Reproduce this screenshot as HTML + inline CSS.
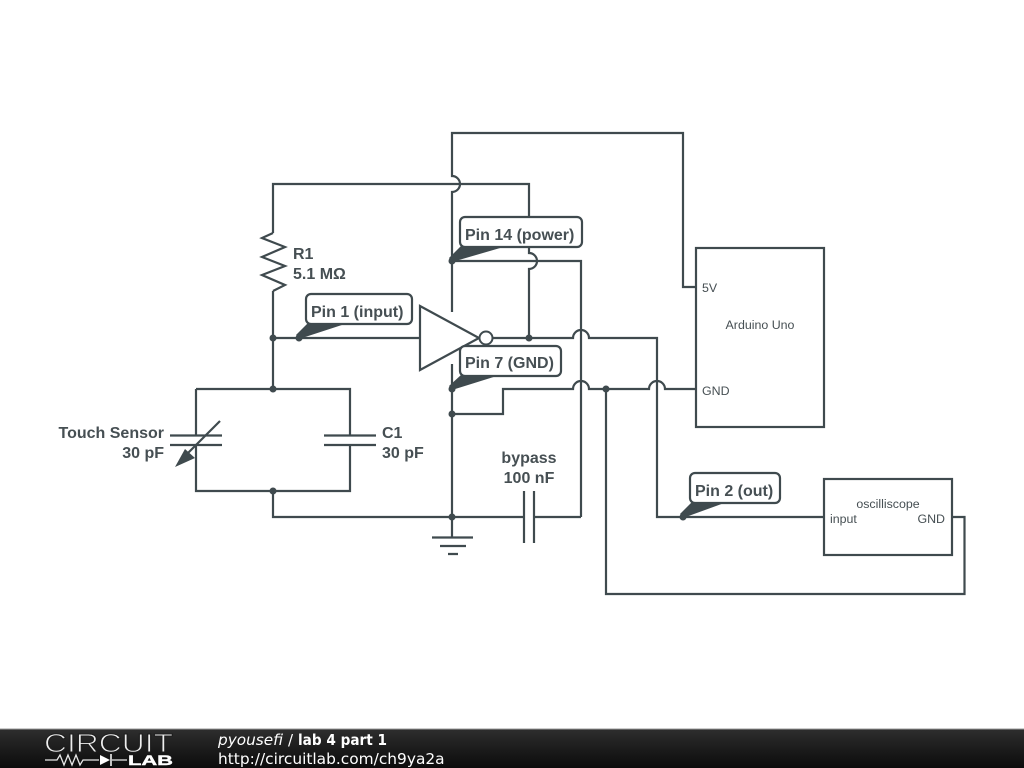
<!DOCTYPE html>
<html>
<head>
<meta charset="utf-8">
<style>
html,body{margin:0;padding:0;background:#fff;width:1024px;height:768px;overflow:hidden}
svg{display:block}
.w{fill:none;stroke:#3f4a4e;stroke-width:2.2}
.d{fill:#3f4a4e}
.c{fill:#fff;stroke:#3f4a4e;stroke-width:2.2}
.b{font:bold 16px "Liberation Sans",sans-serif;fill:#464f53}
.n{font:12.4px "Liberation Sans",sans-serif;fill:#464f53}
.f{font-family:"DejaVu Sans",sans-serif;font-size:15px;fill:#fff}
</style>
</head>
<body>
<svg width="1024" height="768" viewBox="0 0 1024 768" xmlns="http://www.w3.org/2000/svg">
<rect width="1024" height="768" fill="#fff"/>
<defs>
<linearGradient id="g" x1="0" y1="0" x2="0" y2="1">
<stop offset="0" stop-color="#2e2e2e"/><stop offset=".5" stop-color="#1c1c1c"/><stop offset="1" stop-color="#0c0c0c"/>
</linearGradient>
</defs>

<!-- wires -->
<g class="w">
<path d="M452 312V192A8 8 0 0 0 452 176V133H683V287H696"/>
<path d="M273 233V184H529V253A8 8 0 0 1 529 269V338"/>
<path d="M452 261H581V517"/>
<path d="M479 338H573A8 8 0 0 1 589 338H657V517H824"/>
<path d="M452 364V517"/>
<path d="M452 414H503V389H573A8 8 0 0 1 589 389H649A8 8 0 0 1 665 389H696"/>
<path d="M606 389V594H964.500V517H952"/>
<path d="M273 291V389M273 338H420"/>
<path d="M273 233L262 238L285 247L262 257L285 266L262 275L285 285L273 291"/>
<path d="M196 389H350V435M350 445V491H196V445M196 435V389"/>
<path d="M273 491V517H524M534 517H581"/>
<path d="M524 491V543M534 491V543"/>
<path d="M170 435.500H222M170 445H222"/>
<path d="M324 435.500H376M324 445H376"/>
<path d="M220 421L186 455"/>
<path d="M452 517V537M432 537.500H473M440 546H466M448 554H458"/>
<rect x="696" y="248" width="128" height="179"/>
<rect x="824" y="479" width="128" height="76"/>
</g>
<path class="d" d="M175 467L185 449L195 458Z"/>

<!-- inverter -->
<path d="M420 306V370L479 338Z" fill="#fff" stroke="#3f4a4e" stroke-width="2.2"/>
<circle cx="486" cy="338" r="6.500" fill="#fff" stroke="#3f4a4e" stroke-width="2"/>

<!-- junctions -->
<g class="d">
<circle cx="273" cy="338" r="3.500"/>
<circle cx="273" cy="389" r="3.500"/>
<circle cx="273" cy="491" r="3.500"/>
<circle cx="452" cy="517" r="3.500"/>
<circle cx="529" cy="338" r="3.500"/>
<circle cx="606" cy="389" r="3.500"/>
<circle cx="452" cy="414" r="3.500"/>
</g>

<!-- callouts -->
<rect class="c" x="460" y="217" width="122" height="30" rx="5"/>
<path class="d" d="M452 262L449 258L461 246H507Z"/><circle class="d" cx="452" cy="261" r="3.500"/>
<text class="b" x="465" y="240">Pin 14 (power)</text>

<rect class="c" x="460" y="346" width="101" height="30" rx="5"/>
<path class="d" d="M452 390L449 386L461 375H500Z"/><circle class="d" cx="452" cy="389" r="3.500"/>
<text class="b" x="465" y="368">Pin 7 (GND)</text>

<rect class="c" x="306" y="294" width="106" height="30" rx="5"/>
<path class="d" d="M299 339L296 335L308 323H348Z"/><circle class="d" cx="299" cy="338" r="3.500"/>
<text class="b" x="311" y="317">Pin 1 (input)</text>

<rect class="c" x="690" y="473" width="90" height="30" rx="5"/>
<path class="d" d="M683 518L680 514L692 502H727Z"/><circle class="d" cx="683" cy="517" r="3.500"/>
<text class="b" x="695" y="496">Pin 2 (out)</text>

<!-- labels -->
<text class="b" x="293" y="259">R1</text>
<text class="b" x="293" y="279">5.1 MΩ</text>
<text class="b" x="164" y="438" text-anchor="end">Touch Sensor</text>
<text class="b" x="164" y="458" text-anchor="end">30 pF</text>
<text class="b" x="382" y="438">C1</text>
<text class="b" x="382" y="458">30 pF</text>
<text class="b" x="529" y="463" text-anchor="middle">bypass</text>
<text class="b" x="529" y="483" text-anchor="middle">100 nF</text>
<text class="n" x="702" y="292">5V</text>
<text class="n" x="702" y="395">GND</text>
<text class="n" x="760" y="329" text-anchor="middle">Arduino Uno</text>
<text class="n" x="888" y="508" text-anchor="middle">oscilliscope</text>
<text class="n" x="830" y="523">input</text>
<text class="n" x="945" y="523" text-anchor="end">GND</text>

<!-- footer -->
<rect x="0" y="729" width="1024" height="39" fill="url(#g)"/>
<rect x="0" y="728.500" width="1024" height="1" fill="#9a9a9a"/>
<text x="44" y="752" font-family="Liberation Sans,sans-serif" font-size="26" fill="#eee" stroke="#1e1e1e" stroke-width="1" textLength="129" lengthAdjust="spacingAndGlyphs">CIRCUIT</text>
<path d="M45 760H57L60 755L64 765L68 755L72 765L76 755L80 765L83 760H99M112 760H127" fill="none" stroke="#e8e8e8" stroke-width="1.300"/>
<path d="M100 755V765L110 760Z" fill="#fff"/><path d="M111 754V766" stroke="#fff" stroke-width="1.500"/>
<text x="128" y="765" font-family="Liberation Sans,sans-serif" font-size="14" font-weight="bold" fill="#fff" stroke="#fff" stroke-width=".4" textLength="45" lengthAdjust="spacingAndGlyphs">LAB</text>
<text class="f" x="218" y="745" font-style="italic" textLength="65" lengthAdjust="spacingAndGlyphs">pyousefi</text>
<text class="f" x="288" y="745">/</text>
<text class="f" x="298" y="745" font-weight="bold" textLength="89" lengthAdjust="spacingAndGlyphs">lab 4 part 1</text>
<text class="f" x="218" y="764" style="font-size:15.4px">http://circuitlab.com/ch9ya2a</text>
</svg>
</body>
</html>
